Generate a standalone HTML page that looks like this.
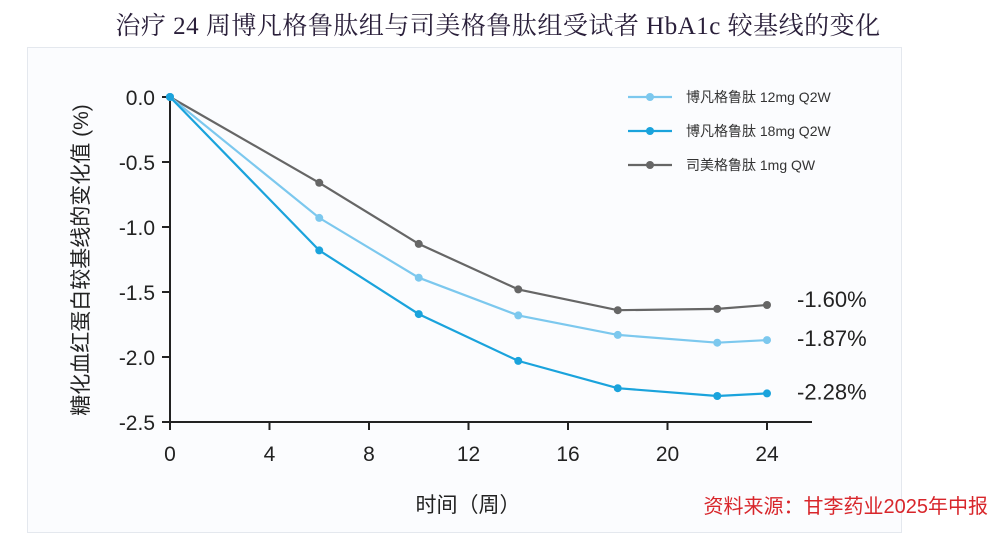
<!DOCTYPE html>
<html><head><meta charset="utf-8"><style>
body{margin:0;width:996px;height:542px;background:#fff;overflow:hidden;font-family:"Liberation Sans","Noto Sans CJK SC",sans-serif}
</style></head><body>
<div style="position:absolute;left:27px;top:47px;width:873px;height:484px;border:1px solid #e4e8ee;background:#fbfcfe"></div>
<div style="position:absolute;left:0;top:6px;width:996px;text-align:center;font-family:'Liberation Serif','Noto Serif CJK SC',serif;font-size:25px;color:#2a1f3a;letter-spacing:0.5px">治疗 24 周博凡格鲁肽组与司美格鲁肽组受试者 HbA1c 较基线的变化</div>
<svg id="c" width="996" height="542" style="position:absolute;left:0;top:0"></svg>
<script>
const weeks=[0,6,10,14,18,22,24];
const s12=[0,-0.93,-1.39,-1.68,-1.83,-1.89,-1.87];
const s18=[0,-1.18,-1.67,-2.03,-2.24,-2.30,-2.28];
const sema=[0,-0.66,-1.13,-1.48,-1.64,-1.63,-1.60];
const xTicks=[0,4,8,12,16,20,24];
const yTicks=[0,-0.5,-1,-1.5,-2,-2.5];
const yLabels=["0.0","-0.5","-1.0","-1.5","-2.0","-2.5"];
const endLabels=["-1.60%","-1.87%","-2.28%"];
const names=["博凡格鲁肽 12mg Q2W","博凡格鲁肽 18mg Q2W","司美格鲁肽 1mg QW"];
const X=v=>170+v*(597/24), Y=v=>97-v*130;
const svg=document.getElementById('c');
const NS='http://www.w3.org/2000/svg';
function mk(t,a,p){const e=document.createElementNS(NS,t);for(const k in a)e.setAttribute(k,a[k]);(p||svg).appendChild(e);return e;}
let e;
e=mk('line',{x1:170,y1:Y(0),x2:170,y2:Y(-2.5),stroke:'#222','stroke-width':2});

e=mk('line',{x1:170,y1:Y(-2.5),x2:X(24)+45,y2:Y(-2.5),stroke:'#222','stroke-width':2});

yTicks.forEach((v,i)=>{
 mk('line',{x1:162,y1:Y(v),x2:170,y2:Y(v),stroke:'#222','stroke-width':2});
 e=mk('text',{x:155,y:Y(v)+8,'text-anchor':'end','font-size':21,fill:'#222'});e.textContent=yLabels[i];
 
});
xTicks.forEach(v=>{
 mk('line',{x1:X(v),y1:Y(-2.5),x2:X(v),y2:Y(-2.5)+8,stroke:'#222','stroke-width':2});
 e=mk('text',{x:X(v),y:Y(-2.5)+39,'text-anchor':'middle','font-size':21,fill:'#222'});e.textContent=v;
 
});
const series=[[sema,'#666666','series-semaglutide'],[s12,'#7cc8ee','series-12mg'],[s18,'#1aa3dc','series-18mg']];
series.forEach(([d,c,n])=>{
 e=mk('polyline',{points:d.map((v,i)=>X(weeks[i])+','+Y(v)).join(' '),fill:'none',stroke:c,'stroke-width':2.2});
 
 d.forEach((v,i)=>{e=mk('circle',{cx:X(weeks[i]),cy:Y(v),r:4,fill:c});
 });
});
[sema,s12,s18].forEach((d,i)=>{
 e=mk('text',{x:797,y:Y(d[d.length-1])+[2,6,6][i],'font-size':22,fill:'#222'});e.textContent=endLabels[i];
 
});
const legC=['#7cc8ee','#1aa3dc','#666666'];
[0,1,2].forEach(i=>{const y=97+i*34;
 mk('line',{x1:628,y1:y,x2:672,y2:y,stroke:legC[i],'stroke-width':2.2});
 mk('circle',{cx:650,cy:y,r:4,fill:legC[i]});
 e=mk('text',{x:686,y:y+5,'font-size':14,fill:'#333'});e.textContent=names[i];
 
});
e=mk('text',{x:0,y:0,'font-size':21,fill:'#222','text-anchor':'middle',transform:'translate(88,260) rotate(-90)'});
e.textContent='糖化血红蛋白较基线的变化值 (%)';

e=mk('text',{x:468,y:512,'font-size':21,fill:'#222','text-anchor':'middle'});e.textContent='时间（周）';

e=mk('text',{x:988,y:513,'font-size':20,fill:'#d8262b','text-anchor':'end'});e.textContent='资料来源：甘李药业2025年中报';

</script>
</body></html>
